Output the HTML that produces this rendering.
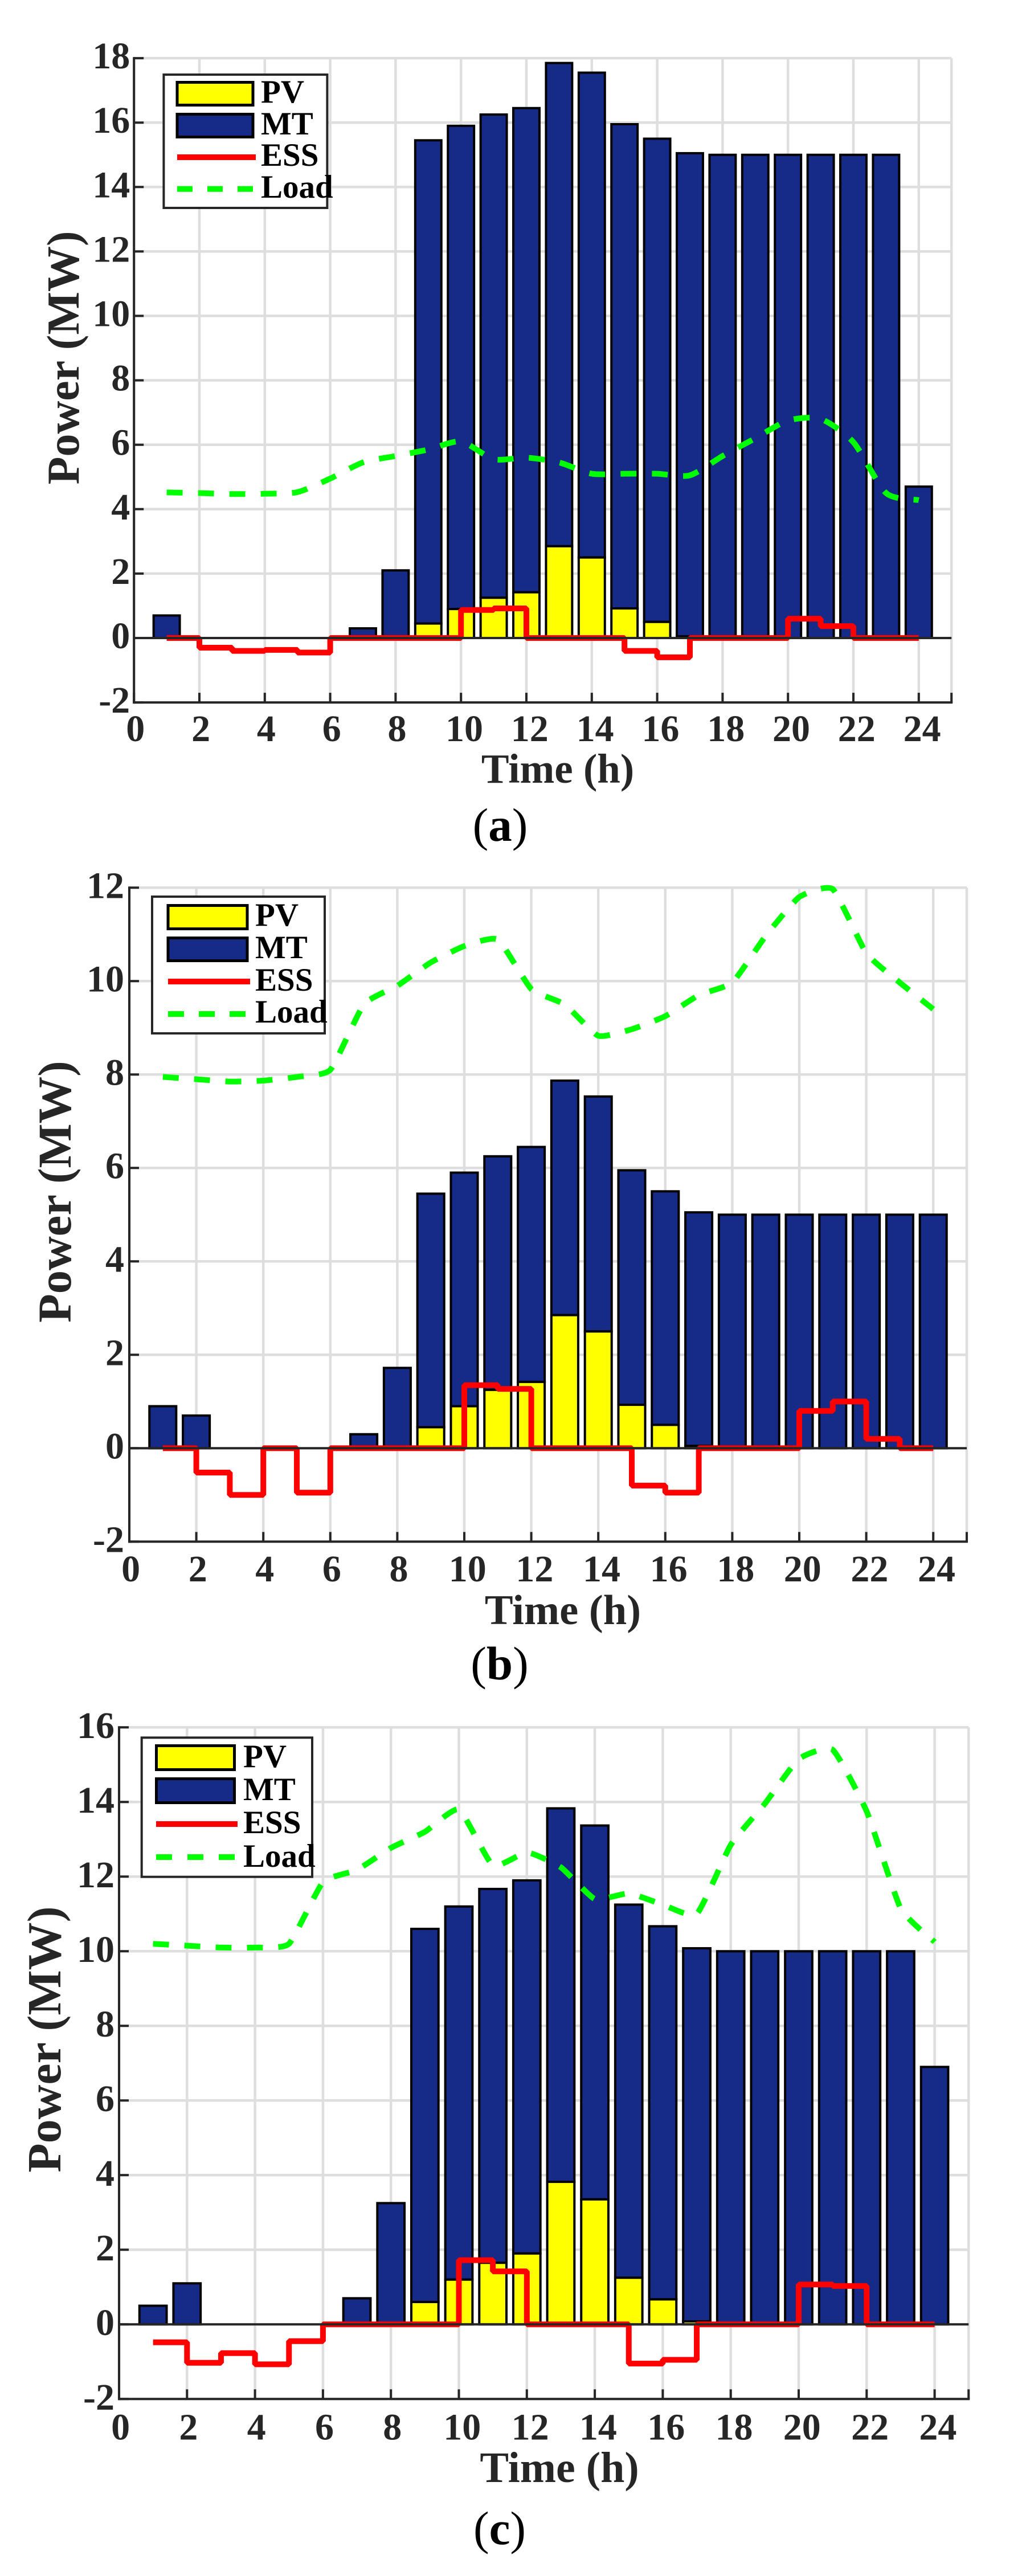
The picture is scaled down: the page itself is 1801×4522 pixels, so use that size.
<!DOCTYPE html>
<html lang="en">
<head>
<meta charset="utf-8">
<title>Power dispatch charts</title>
<style>
html,body{margin:0;padding:0;background:#fff;}
svg{display:block;}
text{font-family:"Liberation Serif",serif;font-weight:bold;}
.tick{font-size:66px;fill:#262626;}
.axis-title{fill:#262626;}
.legend-text{font-size:57px;fill:#000;}
.caption{font-size:83px;fill:#000;font-weight:normal;}
.caption tspan.b{font-weight:bold;}
</style>
</head>
<body>
<svg id="figure" xmlns="http://www.w3.org/2000/svg" width="1801" height="4522" viewBox="0 0 1801 4522">
<rect x="0" y="0" width="1801" height="4522" fill="#fff"/>

<g id="panel-a">
  <g id="marks-a"></g>
  <text class="axis-title" font-size="80" text-anchor="middle" transform="translate(138,628) rotate(-90)">Power (MW)</text>
  <text class="axis-title" font-size="73" text-anchor="middle" x="979" y="1374">Time (h)</text>
  <g>
    <rect x="287.4" y="131" width="287" height="234" fill="#fff" stroke="#262626" stroke-width="4"/>
    <rect x="311" y="144.5" width="133" height="40" fill="#ffff00" stroke="#000" stroke-width="5"/>
    <rect x="311" y="200.5" width="133" height="40" fill="#152b87" stroke="#000" stroke-width="5"/>
    <line x1="311" x2="449" y1="276" y2="276" stroke="#ff0000" stroke-width="10"/>
    <line x1="311" x2="446" y1="331.7" y2="331.7" stroke="#00ff00" stroke-width="10" stroke-dasharray="27 26"/>
    <text class="legend-text" x="458" y="180">PV</text>
    <text class="legend-text" x="458" y="236">MT</text>
    <text class="legend-text" x="458" y="291">ESS</text>
    <text class="legend-text" x="458" y="347">Load</text>
  </g>
  <text class="caption" text-anchor="middle" x="878" y="1476">(<tspan class="b">a</tspan>)</text>
</g>

<g id="panel-b">
  <g id="marks-b"></g>
  <text class="axis-title" font-size="82.6" text-anchor="middle" transform="translate(124,2092) rotate(-90)">Power (MW)</text>
  <text class="axis-title" font-size="74.6" text-anchor="middle" x="988" y="2851">Time (h)</text>
  <g>
    <rect x="267" y="1574" width="303" height="240" fill="#fff" stroke="#262626" stroke-width="4"/>
    <rect x="295" y="1589.5" width="139" height="41" fill="#ffff00" stroke="#000" stroke-width="5"/>
    <rect x="295" y="1646.5" width="139" height="40" fill="#152b87" stroke="#000" stroke-width="5"/>
    <line x1="295" x2="439" y1="1723" y2="1723" stroke="#ff0000" stroke-width="10"/>
    <line x1="295" x2="436" y1="1780" y2="1780" stroke="#00ff00" stroke-width="10" stroke-dasharray="28 26"/>
    <text class="legend-text" x="448" y="1625">PV</text>
    <text class="legend-text" x="448" y="1682">MT</text>
    <text class="legend-text" x="448" y="1739">ESS</text>
    <text class="legend-text" x="448" y="1795">Load</text>
  </g>
  <text class="caption" text-anchor="middle" x="877" y="2948">(<tspan class="b">b</tspan>)</text>
</g>

<g id="panel-c">
  <g id="marks-c"></g>
  <text class="axis-title" font-size="84" text-anchor="middle" transform="translate(106,3580) rotate(-90)">Power (MW)</text>
  <text class="axis-title" font-size="76" text-anchor="middle" x="982" y="4357">Time (h)</text>
  <g>
    <rect x="248.7" y="3050.3" width="299.3" height="244.4" fill="#fff" stroke="#262626" stroke-width="4"/>
    <rect x="274.5" y="3064.5" width="137" height="42" fill="#ffff00" stroke="#000" stroke-width="5"/>
    <rect x="274.5" y="3122.5" width="137" height="42" fill="#152b87" stroke="#000" stroke-width="5"/>
    <line x1="274" x2="417" y1="3202" y2="3202" stroke="#ff0000" stroke-width="10"/>
    <line x1="274" x2="412" y1="3260" y2="3260" stroke="#00ff00" stroke-width="10" stroke-dasharray="28 27"/>
    <text class="legend-text" x="427" y="3102">PV</text>
    <text class="legend-text" x="427" y="3160">MT</text>
    <text class="legend-text" x="427" y="3218">ESS</text>
    <text class="legend-text" x="427" y="3277">Load</text>
  </g>
  <text class="caption" text-anchor="middle" x="877" y="4466">(<tspan class="b">c</tspan>)</text>
</g>
</svg>

<script>
// Shared categories and tick labels
const hours = [1,2,3,4,5,6,7,8,9,10,11,12,13,14,15,16,17,18,19,20,21,22,23,24];
const xTickLabels = [0,2,4,6,8,10,12,14,16,18,20,22,24];

// Panel (a) values
const pvA = [0,0,0,0,0,0,0,0,0.45,0.9,1.25,1.42,2.85,2.5,0.92,0.5,0.05,0,0,0,0,0,0,0];
const mtA = [0.7,0,0,0,0,0,0.3,2.1,15,15,15,15.03,15,15.05,15.03,15,15,15,15,15,15,15,15,4.7];
const essA = [0,-0.3,-0.4,-0.37,-0.45,0,0,0,0,0.87,0.92,0,0,0,-0.4,-0.6,0,0,0,0.6,0.37,0,0];
const loadA = [4.52,4.5,4.47,4.48,4.53,4.95,5.45,5.65,5.85,6.1,5.55,5.6,5.45,5.1,5.1,5.1,5.05,5.65,6.2,6.75,6.8,6.08,4.5,4.28];
const yTicksA = [-2,0,2,4,6,8,10,12,14,16,18];

// Panel (b) values
const pvB = [0,0,0,0,0,0,0,0,0.45,0.9,1.25,1.42,2.85,2.5,0.93,0.5,0.05,0,0,0,0,0,0,0];
const mtB = [0.9,0.7,0,0,0,0,0.3,1.72,5,5,5,5.03,5.02,5.03,5.02,5,5,5,5,5,5,5,5,5];
const essB = [0,-0.52,-1,0,-0.95,0,0,0,0,1.35,1.27,0,0,0,-0.8,-0.95,0,0,0,0.8,1,0.2,0];
const loadB = [7.95,7.9,7.85,7.87,7.95,8.1,9.5,9.9,10.4,10.75,10.89,9.83,9.5,8.83,8.97,9.25,9.7,9.97,10.97,11.8,11.97,10.6,9.97,9.4];
const yTicksB = [-2,0,2,4,6,8,10,12];

// Panel (c) values
const pvC = [0,0,0,0,0,0,0,0,0.6,1.2,1.65,1.9,3.82,3.35,1.25,0.67,0.08,0,0,0,0,0,0,0];
const mtC = [0.5,1.1,0,0,0,0,0.7,3.25,10,10,10.02,10,10.01,10.02,10,10,10,10,10,10,10,10,10,6.9];
const essC = [-0.48,-1.03,-0.77,-1.07,-0.45,0,0,0,0,1.72,1.42,0,0,0,-1.05,-0.95,0,0,0,1.07,1.03,0,0];
const loadC = [10.2,10.15,10.1,10.1,10.2,11.85,12.18,12.77,13.2,13.8,12.3,12.65,12.25,11.4,11.55,11.25,11,12.85,13.95,15.15,15.4,13.75,11.15,10.25];
const yTicksC = [-2,0,2,4,6,8,10,12,14,16];

const NS = 'http://www.w3.org/2000/svg';
function make(parent, tag, attrs) {
  const el = document.createElementNS(NS, tag);
  for (const k in attrs) el.setAttribute(k, attrs[k]);
  parent.appendChild(el);
  return el;
}

function drawPanel(spec) {
  const root = document.getElementById(spec.id);
  const xScale = h => spec.x0 + h * spec.pxPerHour;
  const yScale = v => spec.yZero - v * spec.pxPerUnit;
  const xEnd = xScale(25);
  const yBottom = yScale(spec.yTicks[0]);
  const yTop = yScale(spec.yTicks[spec.yTicks.length - 1]);

  // grid
  const grid = make(root, 'g', {});
  
  
  spec.yTicks.forEach(v => {
    const l = make(grid, 'line', {x1: spec.x0, x2: xEnd, y1: yScale(v), y2: yScale(v), stroke: '#dedede', 'stroke-width': 4.5});
    
    
  });
  xTickLabels.concat([25]).forEach(t => {
    const l = make(grid, 'line', {x1: xScale(t), x2: xScale(t), y1: yTop, y2: yBottom, stroke: '#dedede', 'stroke-width': 4.5});
    
    
  });

  // stacked bars
  const barW = spec.pxPerHour * 0.8;
  const bars = make(root, 'g', {stroke: '#000', 'stroke-width': 4});
  
  
  hours.forEach((h, i) => {
    const pv = spec.pv[i];
    const mt = spec.mt[i];
    if (mt > 0) {
      const r = make(bars, 'rect', {x: xScale(h) - barW / 2, y: yScale(pv + mt), width: barW, height: yScale(pv) - yScale(pv + mt), fill: '#152b87'});
      
      
    }
    if (pv > 0) {
      const r = make(bars, 'rect', {x: xScale(h) - barW / 2, y: yScale(pv), width: barW, height: yScale(0) - yScale(pv), fill: '#ffff00'});
      
      
    }
  });

  // ESS stairs
  let d = 'M' + xScale(hours[0]) + ' ' + yScale(spec.ess[0]);
  spec.ess.forEach((v, i) => {
    d += ' V' + yScale(v) + ' H' + xScale(hours[i + 1]);
  });
  const essLine = make(root, 'path', {d: d, fill: 'none', stroke: '#ff0000', 'stroke-width': 10, 'stroke-linejoin': 'bevel'});
  
  

  // axes
  const axes = make(root, 'g', {stroke: '#262626', 'stroke-width': 4});
  
  
  const base = make(axes, 'line', {x1: spec.x0, x2: xEnd, y1: yScale(0), y2: yScale(0)});
  
  
  const axisY = make(axes, 'line', {x1: spec.x0, x2: spec.x0, y1: yTop - 2, y2: yBottom + 2});
  
  
  const axisX = make(axes, 'line', {x1: spec.x0 - 2, x2: xEnd + 2, y1: yBottom, y2: yBottom});
  
  

  spec.yTicks.forEach(v => {
    const t = make(axes, 'line', {x1: spec.x0, x2: spec.x0 + 17, y1: yScale(v), y2: yScale(v)});
    
    
    const lab = make(root, 'text', {class: 'tick', 'text-anchor': 'end', x: spec.x0 - spec.yLabelGap, y: yScale(v) + spec.yLabelDrop});
    
    
    lab.textContent = v;
  });
  xTickLabels.forEach(v => {
    const t = make(axes, 'line', {x1: xScale(v), x2: xScale(v), y1: yBottom, y2: yBottom - 17});
    
    
    const lab = make(root, 'text', {class: 'tick', 'text-anchor': 'middle', x: xScale(v) + (v < 10 ? 2.6 : 5.8), y: yBottom + spec.xLabelDrop});
    
    
    lab.textContent = v;
  });
  const endTick = make(axes, 'line', {x1: xEnd, x2: xEnd, y1: yBottom, y2: yBottom - 17});
  
  

  // Load smooth dashed curve
  const pts = spec.load.map((v, i) => [xScale(hours[i]), yScale(v)]);
  let ld = 'M' + pts[0][0] + ' ' + pts[0][1];
  for (let i = 0; i < pts.length - 1; i++) {
    const p0 = pts[Math.max(i - 1, 0)], p1 = pts[i], p2 = pts[i + 1], p3 = pts[Math.min(i + 2, pts.length - 1)];
    const k = spec.smooth;
    ld += ' C' + (p1[0] + (p2[0] - p0[0]) * k) + ' ' + (p1[1] + (p2[1] - p0[1]) * k) + ' ' +
          (p2[0] - (p3[0] - p1[0]) * k) + ' ' + (p2[1] - (p3[1] - p1[1]) * k) + ' ' + p2[0] + ' ' + p2[1];
  }
  const loadLine = make(root, 'path', {d: ld, fill: 'none', stroke: '#00ff00', 'stroke-width': 10, 'stroke-dasharray': '28 27'});
  
  
}

drawPanel({id: 'marks-a', x0: 235.2, pxPerHour: 57.4, yZero: 1120, pxPerUnit: 56.55, yTicks: yTicksA, pv: pvA, mt: mtA, ess: essA, load: loadA, yLabelGap: 7, yLabelDrop: 18, xLabelDrop: 68, smooth: 0.12});
drawPanel({id: 'marks-b', x0: 227, pxPerHour: 58.8, yZero: 2542.3, pxPerUnit: 82, yTicks: yTicksB, pv: pvB, mt: mtB, ess: essB, load: loadB, yLabelGap: 9, yLabelDrop: 18, xLabelDrop: 69.5, smooth: 0.08});
drawPanel({id: 'marks-c', x0: 209, pxPerHour: 59.65, yZero: 4080.3, pxPerUnit: 65.5, yTicks: yTicksC, pv: pvC, mt: mtC, ess: essC, load: loadC, yLabelGap: 8, yLabelDrop: 18.5, xLabelDrop: 71, smooth: 0.08});
</script>
</body>
</html>
